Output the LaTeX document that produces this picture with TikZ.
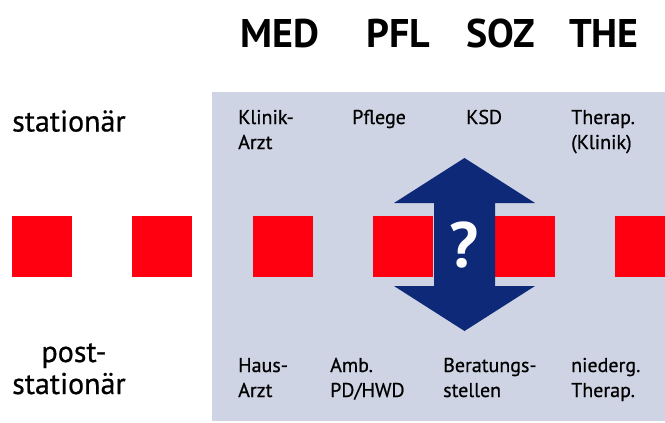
\documentclass[tikz,border=0pt]{standalone}
\usepackage{fontspec}
\setmainfont{PT Sans}
\newfontfamily\medsans{PT Sans}[FakeBold=0.6]
\definecolor{panelgray}{RGB}{206,212,228}
\definecolor{sqred}{RGB}{255,0,16}
\definecolor{navyblue}{RGB}{13,41,120}
\begin{document}
\begin{tikzpicture}[x=1pt,y=-1pt,
  head/.style={font=\fontsize{40}{40}\selectfont\bfseries, inner sep=0pt, anchor=base},
  side/.style={font=\medsans\fontsize{30}{32}\selectfont, inner sep=0pt},
  cell/.style={font=\medsans\fontsize{20}{25}\selectfont, inner sep=0pt, anchor=base west},
  redsq/.style={fill=sqred, inner sep=0pt, minimum width=60pt, minimum height=61pt}]
\clip (0,0) rectangle (665,423);
\fill[white] (0,0) rectangle (665,423);
\fill[panelgray] (212,92) rectangle (665,421);
% headers
\node[head] (hmed) at (280,47) {MED};
\node[head] (hpfl) at (398,47) {PFL};
\node[head] (hsoz) at (501,47) {SOZ};
\node[head] (hthe) at (604,47) {THE};
% side labels
\node[side, anchor=base west] (st1) at (12,131.5) {stationär};
\node[side, anchor=base] (post) at (74,362) {post-};
\node[side, anchor=base west] (st2) at (12,394) {stationär};
% red squares
\node[redsq] (s1) at (42,246.5) {};
\node[redsq] (s2) at (162,246.5) {};
\node[redsq] (s3) at (283,246.5) {};
\node[redsq] (s4) at (403,246.5) {};
\node[redsq] (s5) at (525,246.5) {};
\node[redsq] (s6) at (645,246.5) {};
% cells top
\node[cell] (t1a) at (238,124) {Klinik-};
\node[cell] (t1b) at (238,149) {Arzt};
\node[cell] (t2) at (352,124) {Pflege};
\node[cell] (t3) at (466,124) {KSD};
\node[cell] (t4a) at (571,124) {Therap.};
\node[cell] (t4b) at (571,149) {(Klinik)};
% cells bottom
\node[cell] (b1a) at (238,372) {Haus-};
\node[cell] (b1b) at (238,397) {Arzt};
\node[cell] (b2a) at (330,372) {Amb.};
\node[cell] (b2b) at (330,397) {PD/HWD};
\node[cell] (b3a) at (443,372) {Beratungs-};
\node[cell] (b3b) at (443,397) {stellen};
\node[cell] (b4a) at (571,372) {niederg.};
\node[cell] (b4b) at (571,397) {Therap.};
% double arrow
\fill[navyblue] (464.5,158) -- (535,203) -- (495,203) -- (495,286) -- (535,286)
  -- (464.5,331) -- (394,286) -- (434,286) -- (434,203) -- (394,203) -- cycle;
\node[font=\fontsize{64}{64}\selectfont\bfseries, text=white, inner sep=0pt] (q) at (464.5,245) {?};
\end{tikzpicture}
\end{document}
